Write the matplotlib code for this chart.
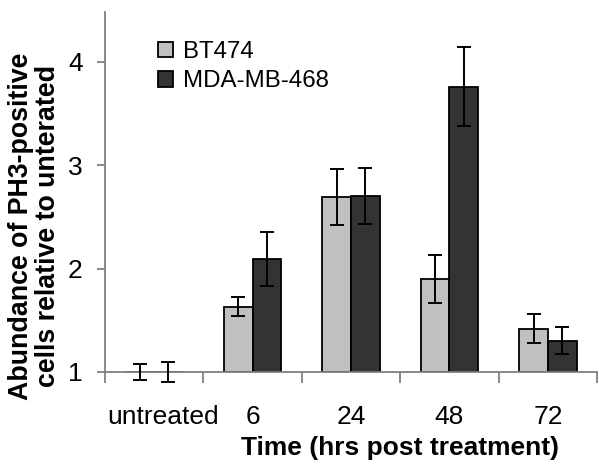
import numpy as np
import matplotlib.pyplot as plt
from matplotlib.transforms import ScaledTranslation

plt.rcParams["font.family"] = ["Liberation Sans", "DejaVu Sans"]

categories = ["untreated", "6", "24", "48", "72"]
bt474 = [1.0, 1.63, 2.69, 1.90, 1.42]
bt474_err = [0.08, 0.09, 0.27, 0.23, 0.145]
mda = [1.0, 2.09, 2.70, 3.76, 1.30]
mda_err = [0.10, 0.26, 0.27, 0.38, 0.13]

fig = plt.figure(figsize=(5.99, 4.69), dpi=100)
ax = fig.add_axes([0.175, 0.207, 0.822, 0.767])

x = np.arange(len(categories))
w = 0.29
base = 1.0

ax.bar(x - w / 2, np.array(bt474) - base, w, bottom=base, color="#c0c0c0",
       edgecolor="black", linewidth=1.3, label="BT474", zorder=2)
ax.bar(x + w / 2, np.array(mda) - base, w, bottom=base, color="#333333",
       edgecolor="black", linewidth=1.3, label="MDA-MB-468", zorder=2)
for xs, vals, errs in [(x - w / 2, bt474, bt474_err), (x + w / 2, mda, mda_err)]:
    eb = ax.errorbar(xs, vals, yerr=errs, fmt="none", ecolor="black",
                     elinewidth=1.4, capsize=4.8, capthick=1.4, zorder=3)
    for artist in eb.get_children():
        artist.set_clip_on(False)

ax.set_xlim(-0.5, len(categories) - 0.5)
ax.set_ylim(1, 4.48)
ax.set_yticks([1, 2, 3, 4])
ax.set_xticks(x)
ax.set_xticklabels(categories)
ax.set_xticks(np.arange(-0.5, len(categories)), minor=True)

for s in ["top", "right"]:
    ax.spines[s].set_visible(False)
for s in ["left", "bottom"]:
    ax.spines[s].set_color("#808080")
    ax.spines[s].set_linewidth(1.3)

ax.tick_params(axis="x", which="major", length=0, pad=24, labelsize=19)
ax.tick_params(axis="x", which="minor", length=8, width=1.3, color="#808080")
ax.tick_params(axis="y", length=6, width=1.3, color="#808080", pad=10,
               labelsize=19)

# the "untreated" label sits a little right of its group centre
lab = ax.get_xticklabels()[0]
lab.set_transform(lab.get_transform() + ScaledTranslation(6.5 / 72, 0, fig.dpi_scale_trans))

ax.set_xlabel("Time (hrs post treatment)", fontsize=19, fontweight="bold")
ax.xaxis.set_label_coords(0.6, -0.178)
ax.set_ylabel("Abundance of PH3-positive\ncells relative to unterated",
              fontsize=19.3, fontweight="bold", linespacing=1.05)
ax.yaxis.set_label_coords(-0.089, 0.405)

ax.legend(loc="upper left", bbox_to_anchor=(0.108, 0.92), frameon=False,
          fontsize=17.3, handlelength=0.62, handleheight=0.62,
          handletextpad=0.4, labelspacing=0.3, borderpad=0, borderaxespad=0)

fig.savefig("out.png", dpi=100)
